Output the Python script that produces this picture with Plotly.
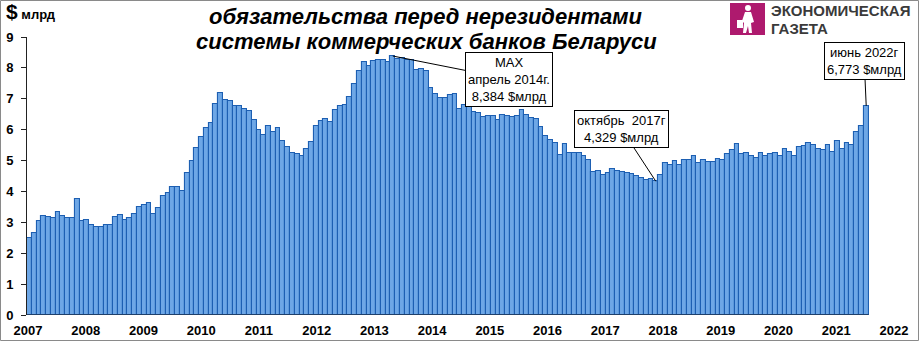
import plotly.graph_objects as go
import pandas as pd

# ---- data, $ bn, monthly ----
values = [
    2.48, 2.67, 3.03, 3.20, 3.17, 3.13, 3.35, 3.20, 3.13, 3.13,
    3.74, 3.03, 3.06, 2.93, 2.84, 2.84, 2.90, 2.90, 3.16, 3.23,
    3.06, 3.13, 3.27, 3.51, 3.56, 3.64, 3.27, 3.48, 3.85, 3.94,
    4.13, 4.16, 4.03, 4.61, 4.97, 5.42, 5.75, 6.07, 6.20, 6.82,
    7.20, 6.97, 6.94, 6.78, 6.77, 6.68, 6.59, 6.30, 5.98, 5.84,
    6.12, 5.91, 6.06, 5.62, 5.44, 5.25, 5.22, 5.16, 5.39, 5.61,
    6.11, 6.28, 6.35, 6.26, 6.63, 6.76, 6.79, 7.06, 7.49, 7.90,
    8.19, 8.05, 8.22, 8.27, 8.25, 8.18, 8.384, 8.30, 8.33, 8.27,
    8.25, 7.92, 7.96, 7.90, 7.36, 7.17, 7.04, 7.03, 7.12, 7.15,
    6.68, 6.81, 6.81, 6.58, 6.54, 6.42, 6.44, 6.44, 6.30, 6.47,
    6.44, 6.42, 6.44, 6.65, 6.47, 6.39, 6.33, 6.09, 5.81, 5.68,
    5.57, 5.17, 5.52, 5.26, 5.26, 5.26, 5.14, 5.01, 4.64, 4.66,
    4.53, 4.61, 4.72, 4.66, 4.63, 4.61, 4.56, 4.50, 4.43, 4.38,
    4.40, 4.329, 4.53, 4.91, 4.87, 5.00, 4.85, 5.03, 5.03, 5.16,
    4.91, 5.02, 4.94, 4.96, 5.04, 5.03, 5.22, 5.34, 5.55, 5.22,
    5.26, 5.16, 5.07, 5.26, 5.16, 5.22, 5.26, 5.16, 5.38, 5.29,
    5.16, 5.44, 5.48, 5.58, 5.49, 5.38, 5.33, 5.51, 5.29, 5.62,
    5.36, 5.58, 5.49, 5.92, 6.12, 6.773,
]
months = [p.strftime('%m.%Y') for p in
          pd.period_range(end='2022-06', periods=len(values), freq='M')]
year_labels = [str(y) for y in range(2007, 2023)]

# callouts: (bar index, text)
idx_max = values.index(max(values))
idx_min = values.index(4.329)
idx_last = len(values) - 1
callout_max = "MAX<br>апрель 2014г.<br>8,384 $млрд"
callout_min = "октябрь  2017г<br>4,329 $млрд"
callout_last = "июнь 2022г<br>6,773 $млрд"

# ---- layout geometry ----
W, H = 919, 341
ML, MR, MT, MB = 27, 14, 37, 26
PW, PH = W - ML - MR, H - MT - MB
BAR_PX = 841.6 / len(values)          # pixel width of one bar
YEAR_STEP = 57.73 / BAR_PX            # label spacing in bar units
YEAR_OFFSET = -0.5 + 1.0 / BAR_PX


def px(x):
    return (x - ML) / PW


def py(y):
    return (H - MB - y) / PH


fig = go.Figure(go.Bar(
    x=list(range(len(values))), y=values, customdata=months,
    marker=dict(color='#6EA7E6', line=dict(color='#1D5FB2', width=1.1)),
    hovertemplate='%{customdata}: %{y}<extra></extra>',
))

fig.update_layout(
    width=W, height=H,
    margin=dict(l=ML, r=MR, t=MT, b=MB, autoexpand=False),
    paper_bgcolor='white', plot_bgcolor='white',
    bargap=0, showlegend=False,
    font=dict(family='Arial, Liberation Sans, sans-serif', color='black'),
    xaxis=dict(
        range=[-0.5, -0.5 + PW / BAR_PX], automargin=False,
        tickvals=[YEAR_OFFSET + YEAR_STEP * k for k in range(len(year_labels))],
        ticktext=year_labels, ticks='', showline=False, showgrid=False,
        zeroline=False, tickfont=dict(size=13, weight='bold'),
        ticklabelstandoff=6,
    ),
    yaxis=dict(
        range=[0, 9], dtick=1, showline=True, linecolor='#222', linewidth=1,
        ticks='outside', ticklen=5, tickcolor='#222', showgrid=False,
        zeroline=False, tickfont=dict(size=13, weight='bold'),
        ticklabelstandoff=5, automargin=False,
    ),
)

shapes = [
    # x axis baseline under the bars
    dict(type='line', xref='x', yref='y', x0=-0.5, x1=len(values) - 0.5,
         y0=0, y1=0, line=dict(color='#222', width=1)),
    # outer frame
    dict(type='rect', xref='paper', yref='paper', x0=px(0.5), x1=px(918.5),
         y0=py(340.5), y1=py(0.5), line=dict(color='#8a8a8a', width=1)),
    # logo square
    dict(type='rect', xref='paper', yref='paper', x0=px(730), x1=px(765),
         y0=py(35), y1=py(3), fillcolor='#AE1A6E', line=dict(width=0)),
    dict(type='circle', xref='paper', yref='paper', x0=px(745), x1=px(751),
         y0=py(11), y1=py(5), fillcolor='white', line=dict(width=0)),
]
fig_path_px = [(745, 12), (751, 12), (754, 22), (751, 23), (752, 33), (749, 33),
               (748, 26), (746, 33), (743, 33), (744, 23), (742, 21)]
path = 'M ' + ' L '.join(f'{px(a):.5f},{py(b):.5f}' for a, b in fig_path_px) + ' Z'
shapes.append(dict(type='path', xref='paper', yref='paper', path=path,
                   fillcolor='white', line=dict(width=0)))
bag_px = [(737, 20), (743, 20), (743, 28), (737, 28)]
path2 = 'M ' + ' L '.join(f'{px(a):.5f},{py(b):.5f}' for a, b in bag_px) + ' Z'
shapes.append(dict(type='path', xref='paper', yref='paper', path=path2,
                   fillcolor='white', line=dict(width=0)))
fig.update_layout(shapes=shapes)

ann = [
    dict(text="<b><span style='font-size:21px'>$</span> млрд</b>",
         x=px(5), y=py(24), xanchor='left', yanchor='bottom',
         font=dict(size=13)),
    dict(text="<b><i>обязательства перед нерезидентами</i></b>",
         x=px(426), y=py(16), xanchor='center', yanchor='middle',
         font=dict(size=22)),
    dict(text="<b><i>системы коммерческих банков Беларуси</i></b>",
         x=px(426), y=py(41), xanchor='center', yanchor='middle',
         font=dict(size=22)),
    dict(text="<b>ЭКОНОМИЧЕСКАЯ</b>", x=px(770), y=py(11),
         xanchor='left', yanchor='middle', font=dict(size=15, color='#3a3a3a')),
    dict(text="<b>ГАЗЕТА</b>", x=px(770), y=py(28.5),
         xanchor='left', yanchor='middle', font=dict(size=15, color='#3a3a3a')),
]
for a in ann:
    a.update(xref='paper', yref='paper', showarrow=False, borderpad=0)

callout_style = dict(xref='x', yref='y', showarrow=True, arrowhead=0,
                     arrowwidth=1, arrowcolor='black', bordercolor='black',
                     borderwidth=1, borderpad=2, bgcolor='white',
                     font=dict(size=13, color='black'))
ann += [
    dict(x=idx_max, y=values[idx_max], text=callout_max, ax=116, ay=23,
         **callout_style),
    dict(x=idx_min, y=values[idx_min], text=callout_min, ax=-34, ay=-52,
         **callout_style),
    dict(x=idx_last, y=values[idx_last], text=callout_last, ax=-2, ay=-45,
         **callout_style),
]
fig.update_layout(annotations=ann)

fig.write_html("out.html")
